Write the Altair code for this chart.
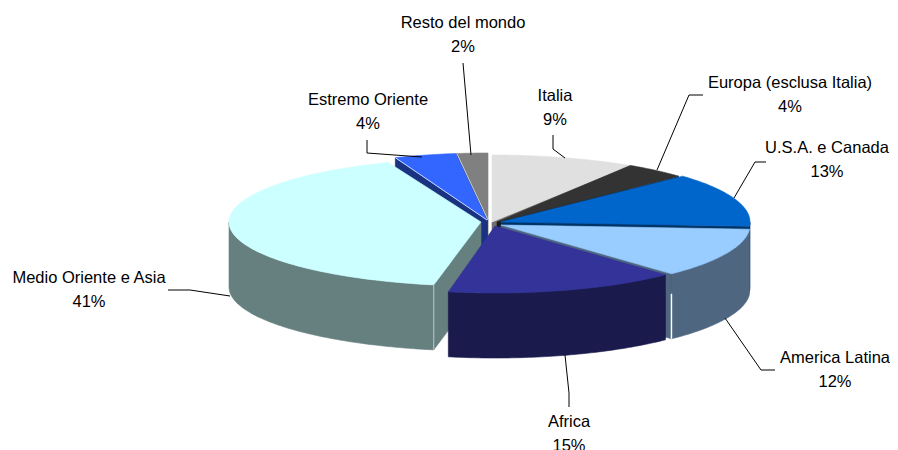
import math
import altair as alt
import pandas as pd

# --- chart values ---
labels = ["Italia", "Europa (esclusa Italia)", "U.S.A. e Canada", "America Latina",
          "Africa", "Medio Oriente e Asia", "Estremo Oriente", "Resto del mondo"]
shares = [9, 4, 13, 12, 15, 41, 4, 2]

# --- styling / layout ---
top_colors = ["#E0E0E0", "#333333", "#0066CC", "#99CCFF", "#333399", "#CCFFFF", "#3366FF", "#808080"]
side_colors = ["#707070", "#1A1A1A", "#003366", "#4F6680", "#1A1A4D", "#668080", "#1A3380", "#404040"]
apex = [(492, 222), (497, 222), (501, 222), (501, 225), (495, 226), (481, 222), (487, 220), (488, 220)]
radius_x = [257, 249, 249, 249, 249, 252, 249, 249]
radius_y = [67, 67, 67, 67, 67, 64, 67, 67]
DEPTH = 65
draw_order = [7, 0, 1, 2, 3, 6, 5, 4]
label_pos = [(555, 96), (790, 83), (827, 148), (835, 358), (569, 422), (89, 278), (368, 100), (463, 23)]
leaders = [
    [(553, 135), (553, 149), (565, 158)],
    [(703, 95), (689, 95), (657, 170)],
    [(766, 162), (755, 162), (734, 198)],
    [(775, 370), (761, 370), (725, 318)],
    [(569, 407), (569, 393), (565, 355)],
    [(168, 290), (190, 290), (230, 296)],
    [(367, 140), (367, 153), (422, 157)],
    [(463, 63), (471, 155)],
]
FONT = "Liberation Sans"
FS = 16.5

xs = alt.X("x:Q", scale=alt.Scale(domain=[8, 890], nice=False, zero=False), axis=None)
ys = alt.Y("y:Q", scale=alt.Scale(domain=[450, 8], nice=False, zero=False), axis=None)


def pt(i, t):
    a = math.radians(t)
    return apex[i][0] + radius_x[i] * math.sin(a), apex[i][1] - radius_y[i] * math.cos(a)


def poly(points, color):
    df = pd.DataFrame([{"x": p[0], "y": p[1], "i": k} for k, p in enumerate(points + points[:1])])
    return alt.Chart(df).mark_line(fill=color, stroke=color, strokeWidth=0.6, interpolate="linear").encode(
        x=xs, y=ys, order=alt.Order("i:Q"))


def seg(points, color, w=1):
    df = pd.DataFrame([{"x": p[0], "y": p[1], "i": j} for j, p in enumerate(points)])
    return alt.Chart(df).mark_line(color=color, strokeWidth=w).encode(x=xs, y=ys, order=alt.Order("i:Q"))


layers = []
starts = [sum(shares[:i]) * 3.6 for i in range(len(shares))]
ends = [sum(shares[:i + 1]) * 3.6 for i in range(len(shares))]

for i in draw_order:
    t0, t1 = starts[i], ends[i]
    n = max(2, int(t1 - t0) + 1)
    ts = [t0 + (t1 - t0) * k / n for k in range(n + 1)]
    ax, ay = apex[i]
    side = side_colors[i]
    # visible cut faces
    for t, sign in ((t0, -1), (t1, 1)):
        if sign * math.sin(math.radians(t)) > 0:
            ox, oy = pt(i, t)
            layers.append(poly([(ax, ay), (ox, oy), (ox, oy + DEPTH), (ax, ay + DEPTH)], side))
    # outer wall, front half
    front = [t for t in ts if 90 <= t <= 270]
    if t0 < 90 < t1:
        front = [90] + front
    if t0 < 270 < t1:
        front = front + [270]
    if len(front) > 1:
        a = [pt(i, t) for t in front]
        layers.append(poly(a + [(x, y + DEPTH) for x, y in reversed(a)], side))
    # top
    layers.append(poly([(ax, ay)] + [pt(i, t) for t in ts], top_colors[i]))
    # pale edges
    if i == 3:
        x, y = pt(3, t1)
        layers.append(seg([(x, y + 20), (x, y + 65)], "#FFFFFF", 1.5))
    if i == 5:
        x, y = pt(5, t0)
        layers.append(seg([(x, y), (x, y + DEPTH)], "#B4CCCC", 1))
    if i == 6:
        layers.append(seg([(ax, ay), pt(6, t0)], "#C8D8FF", 1))
    if i == 7:
        layers.append(seg([(ax, ay), pt(7, t0)], "#D0D0D0", 1))

for path in leaders:
    layers.append(seg(path, "#000000", 1))

rows = []
for name, v, (x, y) in zip(labels, shares, label_pos):
    rows.append({"x": x, "y": y, "t": name})
    rows.append({"x": x, "y": y + 24, "t": f"{v}%"})
layers.append(alt.Chart(pd.DataFrame(rows)).mark_text(
    font=FONT, fontSize=FS, color="#000000", align="center", baseline="middle").encode(
    x=xs, y=ys, text="t:N"))

chart = alt.layer(*layers).properties(width=882, height=442, padding=0,
                                      autosize=alt.AutoSizeParams(type="none")).configure_view(stroke=None)
chart.save("out.html", embed_options={"renderer": "svg", "actions": False})
